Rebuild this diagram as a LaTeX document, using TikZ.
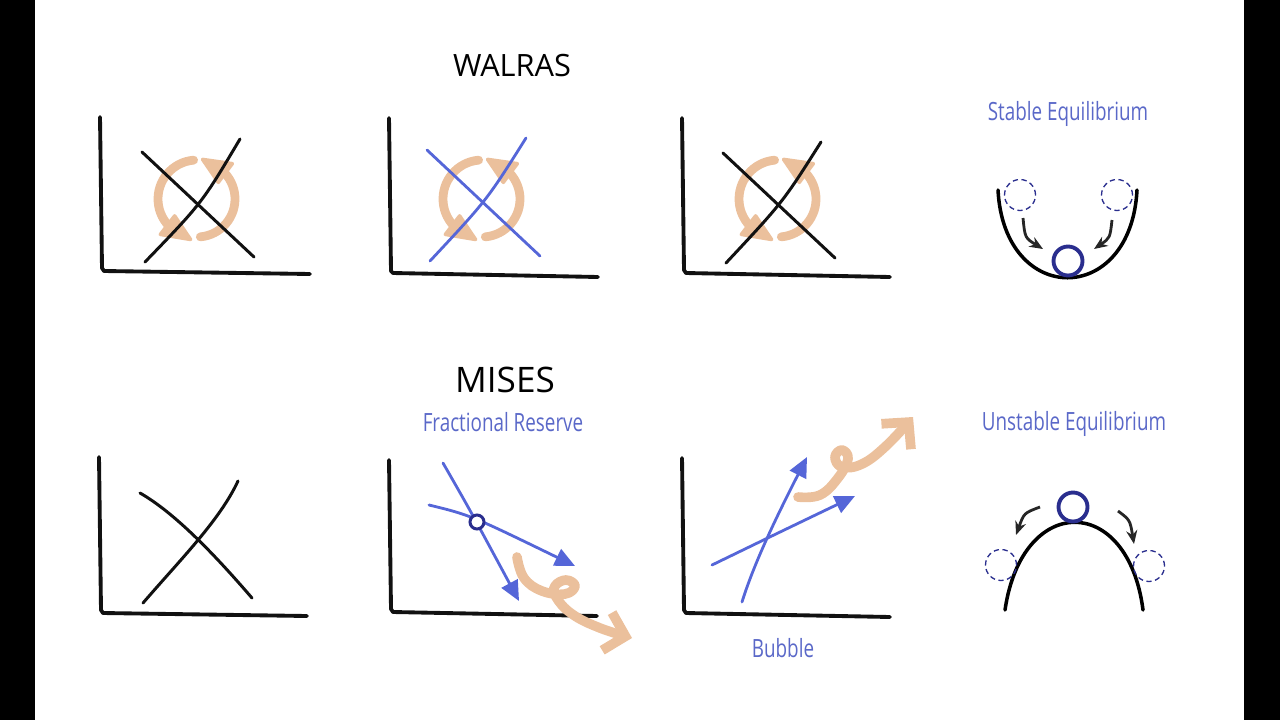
\documentclass[tikz,border=0pt]{standalone}
\usepackage{fontspec}
\setmainfont{Open Sans}
\newfontfamily\labelfont[FakeStretch=0.75]{Open Sans}
\usetikzlibrary{arrows.meta,shapes}
\definecolor{peach}{HTML}{EBC09C}
\definecolor{chalkblue}{HTML}{5566D8}
\definecolor{inkblue}{HTML}{5A68C8}
\definecolor{navy}{HTML}{2A2E8E}
\definecolor{ink}{HTML}{111111}

\begin{document}
\begin{tikzpicture}[x=0.02cm, y=-0.02cm,
  axisline/.style={draw=ink, line width=2.2pt, line cap=round, line join=round},
  crossline/.style={draw=ink, line width=1.7pt, line cap=round},
  bluecurve/.style={draw=chalkblue, line width=1.6pt, line cap=round},
  bluearrow/.style={bluecurve, -{Triangle[length=0.4cm,width=0.36cm]}},
  swirl/.style={draw=peach, line width=5pt, line cap=round},
  swirlhead/.style={fill=peach, draw=peach, line width=2pt, line join=round},
  squiggle/.style={draw=peach, line width=5.5pt, line cap=round, line join=round, -{Straight Barb[length=0.38cm,width=0.78cm]}},
  heading/.style={text=black, inner sep=0pt},
  bluelabel/.style={font=\labelfont\fontsize{14.3}{16}\selectfont, text=inkblue, inner sep=0pt, anchor=base},
  ball/.style={circle, draw=navy, line width=2.2pt, minimum size=0.58cm, inner sep=0pt},
  ghost/.style={circle, draw=navy, dashed, dash pattern=on 3pt off 2pt, line width=0.75pt, minimum size=0.62cm, inner sep=0pt},
  roll/.style={draw=black!85, line width=1.6pt, -{Stealth[length=0.27cm,width=0.22cm]}}]
\useasboundingbox (0,0) rectangle (1280,720);
% side bars
\fill[black] (0,0) rectangle (35,720);
\fill[black] (1244,0) rectangle (1280,720);

% titles
\node[heading, font=\fontsize{17.5}{20}\selectfont] (walras) at (512,66) {WALRAS};
\node[heading, font=\fontsize{20}{24}\selectfont] (mises) at (505,380) {MISES};
\node[bluelabel] (stable) at (1068,120) {Stable Equilibrium};
\node[bluelabel] (unstable) at (1074,430) {Unstable Equilibrium};
\node[bluelabel] (fractional) at (503,431) {Fractional Reserve};
\node[bluelabel] (bubble) at (783,657) {Bubble};

% walras row: the two half turns, heads drawn as small wedges
\foreach \cx in {197,482,778}{
  \draw[swirl] ([shift={(265:39)}]\cx,199) arc[start angle=265, end angle=132, radius=39];
  \fill[swirlhead] ([shift={(143:28)}]\cx,199) -- ([shift={(136:51)}]\cx,199)
    -- ([shift={(99:41)}]\cx,199) -- cycle;
  \draw[swirl] ([shift={(85:38)}]\cx,199) arc[start angle=85, end angle=-48, radius=38];
  \fill[swirlhead] ([shift={(-38:27)}]\cx,199) -- ([shift={(-45:50)}]\cx,199)
    -- ([shift={(-82:40)}]\cx,199) -- cycle;
}
\draw[axisline] (100,117) -- (102,268) -- (104,271) -- (310,274);
\draw[crossline] (142,152) -- (254,257);
\draw[crossline] (145,262) .. controls (202,203) .. (240,139);

\draw[axisline] (389,118) -- (391,271) -- (393,273) -- (598,277);
\draw[bluecurve] (427,150) -- (540,256);
\draw[bluecurve] (430,261) .. controls (487,200) .. (526,138);

\draw[axisline] (682,118) -- (684,270) -- (686,273) -- (890,277);
\draw[crossline] (723,153) -- (835,258);
\draw[crossline] (726,263) .. controls (783,202) .. (821,142);

% mises row
\draw[axisline] (99,457) -- (101,610) -- (103,613) -- (307,616);
\draw[crossline] (140,493) .. controls (175,513) and (215,555) .. (252,598);
\draw[crossline] (143,603) .. controls (180,560) and (220,520) .. (238,481);

\draw[axisline] (389,460) -- (391,609) -- (393,612) -- (597,616);
\draw[squiggle] plot[smooth, tension=0.7] coordinates {(517,557) (524,578) (542,591) (565,594) (575,586) (566,580) (555,586) (556,597) (572,614) (600,628) (632,638)};
\draw[bluearrow] (443,463) .. controls (470,510) .. (519,601);
\draw[bluearrow] (429,505) .. controls (470,515) .. (575,566);
\node[circle, draw=navy, fill=white, line width=1.7pt, minimum size=0.28cm, inner sep=0pt] (cross) at (477,522) {};

\draw[axisline] (682,458) -- (684,610) -- (686,613) -- (890,617);
\draw[bluearrow] (742,602) .. controls (755,560) and (780,510) .. (807,457);
\draw[bluearrow] (712,565) .. controls (780,532) .. (855,496);
\draw[squiggle] plot[smooth, tension=0.7] coordinates {(798,497) (820,495) (838,478) (848,459) (842,450) (835,457) (842,467) (862,464) (886,446) (913,417)};

% equilibria
\draw[line width=2pt, line cap=round] (998,190) .. controls (1004,307) and (1131,307) .. (1137,190);
\node[ball] (sball) at (1068,261) {};
\node[ghost] (sleft) at (1020,195) {};
\node[ghost] (sright) at (1117,195) {};
\draw[roll] (1023,218) .. controls (1025,238) .. (1043,249);
\draw[roll] (1112,220) .. controls (1110,238) .. (1094,249);

\draw[line width=2pt, line cap=round] (1005,610) .. controls (1022,493) and (1128,493) .. (1143,610);
\node[ball] (uball) at (1073,507) {};
\node[ghost] (uleft) at (1001,565) {};
\node[ghost] (uright) at (1149,566) {};
\draw[roll] (1040,507) .. controls (1024,513) .. (1016,535);
\draw[roll] (1118,511) .. controls (1130,520) .. (1134,544);
\end{tikzpicture}
\end{document}
